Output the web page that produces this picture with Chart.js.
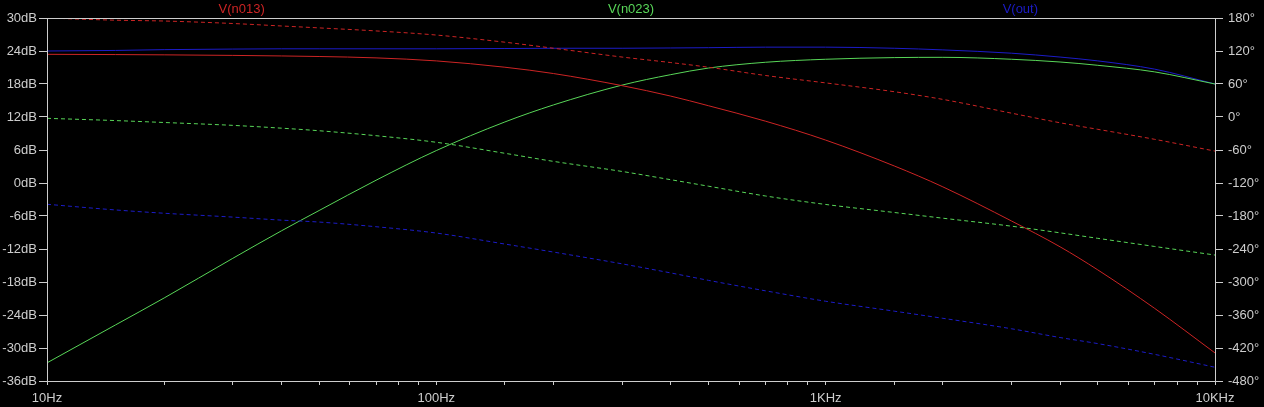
<!DOCTYPE html>
<html>
<head>
<meta charset="utf-8">
<script src="https://cdn.jsdelivr.net/npm/chart.js@4.4.1/dist/chart.umd.min.js"></script>
<style>
  html, body { margin: 0; padding: 0; background: #000; }
  #wrap { width: 1264px; height: 407px; }
</style>
</head>
<body>
<div id="wrap"><canvas id="bode"></canvas></div>
<script>
// frequency points (Hz)
const freqs = [10, 15, 20, 30, 40, 50, 70, 100, 150, 200, 300, 400, 500, 700, 1000, 1500, 2000, 3000, 4000, 5000, 7000, 10000];

// magnitudes, dB (left axis)
const magN013 = [23.4, 23.35, 23.3, 23.2, 23.1, 23.0, 22.75, 22.2, 21.05, 19.9, 17.7, 15.8, 14.05, 11.25, 7.8, 3.1, -0.7, -6.9, -11.6, -15.8, -22.8, -30.9];
const magN023 = [-32.7, -25.8, -20.9, -13.7, -8.7, -5.0, 0.5, 5.9, 11.1, 14.2, 17.8, 19.7, 20.9, 21.95, 22.5, 22.8, 22.85, 22.5, 22.0, 21.4, 20.2, 18.0];
const magOut  = [24.0, 24.1, 24.25, 24.35, 24.4, 24.4, 24.4, 24.4, 24.45, 24.5, 24.5, 24.55, 24.6, 24.7, 24.7, 24.5, 24.2, 23.6, 22.9, 22.2, 20.7, 18.0];

// phases, degrees (right axis)
const phN013 = [180, 176, 174.5, 170, 165.5, 162, 156.5, 149, 136, 125, 109, 99, 90.5, 75.5, 62, 46, 32, 7, -10.5, -22.4, -40.6, -62];
const phN023 = [-2.4, -6.5, -10, -15.2, -20.3, -25, -34, -46, -66, -80.7, -99, -114, -125.8, -143.6, -159, -173.6, -184, -198.5, -210.6, -220.6, -235.4, -251];
const phOut  = [-158.7, -169, -175, -182, -187.5, -191, -199.5, -211, -231, -245.6, -267, -283.5, -297, -316, -335, -353, -366, -385, -401, -412, -431.6, -455];

const traceNames = ['V(n013)', 'V(n023)', 'V(out)'];
const traceColors = ['#cc2424', '#58d658', '#1c1cc8'];

const dbTicks = { min: -36, max: 30, step: 6 };
const degTicks = { min: -480, max: 180, step: 60 };

const axisColor = '#cdcdcd';
const fontFamily = '"Liberation Sans", Arial, sans-serif';

const pts = vals => vals.map((v, i) => ({ x: freqs[i], y: v }));

function trace(idx, vals, axis, dashed) {
    return {
        label: traceNames[idx] + (dashed ? ' phase' : ''),
        data: pts(vals),
        yAxisID: axis,
        borderColor: traceColors[idx],
        borderWidth: 1,
        borderDash: dashed ? [4, 3] : [],
        pointRadius: 0,
        cubicInterpolationMode: 'monotone',
        fill: false
    };
}

const datasets = [
    trace(0, phN013, 'yDeg', true),
    trace(1, phN023, 'yDeg', true),
    trace(2, phOut, 'yDeg', true),
    trace(0, magN013, 'yDb', false),
    trace(1, magN023, 'yDb', false),
    trace(2, magOut, 'yDb', false)
];

// frame round the plot plus the trace names above it
const framePlugin = {
    id: 'frame',
    afterDraw(chart) {
        const { ctx, chartArea: a } = chart;
        ctx.save();
        ctx.strokeStyle = axisColor;
        ctx.lineWidth = 1;
        ctx.strokeRect(a.left + 0.5, a.top + 0.5, a.right - a.left, a.bottom - a.top);

        const w = (a.right - a.left) / traceNames.length;
        ctx.font = '13px ' + fontFamily;
        ctx.textAlign = 'center';
        ctx.textBaseline = 'middle';
        traceNames.forEach((name, i) => {
            ctx.fillStyle = traceColors[i];
            ctx.fillText(name, a.left + w * i + w / 2, 9);
        });
        ctx.restore();
    }
};

function freqLabel(v) {
    const l = Math.log10(v);
    if (Math.abs(l - Math.round(l)) > 1e-6) return '';
    return v >= 1000 ? (v / 1000) + 'KHz' : v + 'Hz';
}

new Chart(document.getElementById('bode'), {
    type: 'line',
    data: { datasets: datasets },
    plugins: [framePlugin],
    options: {
        responsive: true,
        maintainAspectRatio: false,
        animation: false,
        layout: { padding: { top: 18, left: 0, right: 0, bottom: 0 } },
        plugins: {
            legend: { display: false },
            tooltip: { enabled: false }
        },
        scales: {
            x: {
                type: 'logarithmic',
                min: 10,
                max: 10000,
                afterFit: s => { s.height = 26; },
                grid: { display: true, drawOnChartArea: false, color: axisColor, tickLength: 4 },
                border: { display: true, color: axisColor },
                ticks: {
                    autoSkip: false,
                    maxRotation: 0,
                    padding: 6,
                    color: axisColor,
                    font: { family: fontFamily, size: 13 },
                    callback: v => freqLabel(v)
                }
            },
            yDb: {
                position: 'left',
                min: dbTicks.min,
                max: dbTicks.max,
                afterFit: s => { s.width = 47; },
                grid: { display: true, drawOnChartArea: false, color: axisColor, tickLength: 8 },
                border: { display: true, color: axisColor },
                ticks: {
                    stepSize: dbTicks.step,
                    padding: 2,
                    color: axisColor,
                    font: { family: fontFamily, size: 13 },
                    callback: v => v + 'dB'
                }
            },
            yDeg: {
                position: 'right',
                min: degTicks.min,
                max: degTicks.max,
                afterFit: s => { s.width = 49; },
                grid: { display: true, drawOnChartArea: false, color: axisColor, tickLength: 8 },
                border: { display: true, color: axisColor },
                ticks: {
                    stepSize: degTicks.step,
                    padding: 5,
                    color: axisColor,
                    font: { family: fontFamily, size: 13 },
                    callback: v => v + '°'
                }
            }
        }
    }
});
</script>
</body>
</html>
